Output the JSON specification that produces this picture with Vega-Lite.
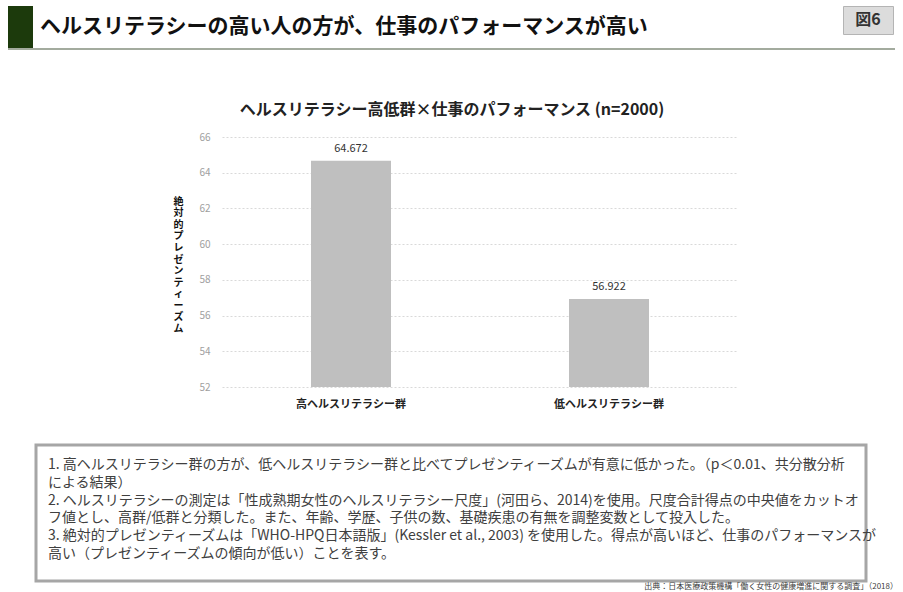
{
  "$schema": "https://vega.github.io/schema/vega-lite/v6.json",
  "padding": {"left": 8, "top": 5, "right": 0, "bottom": 0},
  "background": "white",
  "config": {"view": {"stroke": null}, "font": "Noto Sans CJK JP"},
  "spacing": 0,
  "bounds": "flush",
  "vconcat": [
    {
      "spacing": 7,
      "bounds": "flush",
      "hconcat": [
        {
          "width": 25, "height": 42,
          "view": {"fill": "#1c3a0c", "stroke": null},
          "data": {"values": [{"k": "bar"}]},
          "mark": {"type": "rect", "color": "#1c3a0c"},
          "encoding": {}
        },
        {
          "width": 796, "height": 42,
          "data": {"values": [{"t": "ヘルスリテラシーの高い人の方が、仕事のパフォーマンスが高い"}]},
          "mark": {"type": "text", "align": "left", "baseline": "middle", "fontSize": 21, "fontWeight": "bold", "color": "#111111"},
          "encoding": {
            "text": {"field": "t"},
            "x": {"datum": 0, "type": "quantitative", "scale": {"domain": [0, 1]}, "axis": null}
          }
        },
        {
          "width": 50, "height": 28,
          "view": {"fill": "#dcdcdc", "stroke": "#b4b4b4", "strokeWidth": 1},
          "data": {"values": [{"t": "図6"}]},
          "mark": {"type": "text", "fontSize": 16, "fontWeight": "bold", "color": "#333333"},
          "encoding": {"text": {"field": "t"}}
        }
      ]
    },
    {
      "width": 1, "height": 42,
      "data": {"values": []},
      "mark": "text",
      "encoding": {}
    },
    {
      "width": 887, "height": 2,
      "view": {"fill": "#a3ab9e", "stroke": null},
      "data": {"values": [{"k": 1}]},
      "mark": {"type": "rect", "color": "#a3ab9e"},
      "encoding": {}
    },
    {
      "width": 1, "height": 87,
      "data": {"values": []},
      "mark": "text",
      "encoding": {}
    },
    {
      "spacing": 0,
      "bounds": "flush",
      "hconcat": [
        {
          "width": 214, "height": 1,
          "data": {"values": []},
          "mark": "text",
          "encoding": {}
        },
        {
          "width": 516, "height": 250,
          "title": {"text": "ヘルスリテラシー高低群×仕事のパフォーマンス (n=2000)", "fontSize": 16, "fontWeight": "bold", "color": "#222222", "offset": 14, "anchor": "middle", "dx": -28},
          "data": {"values": [
            {"group": "高ヘルスリテラシー群", "value": 64.672},
            {"group": "低ヘルスリテラシー群", "value": 56.922}
          ]},
          "encoding": {
            "x": {"field": "group", "type": "nominal", "sort": null,
                  "scale": {"paddingInner": 0, "paddingOuter": 0},
                  "axis": {"title": null, "labelAngle": 0, "labelFontSize": 11, "labelFontWeight": "bold", "labelColor": "#222222", "domain": false, "ticks": false, "labelPadding": 11}},
            "y": {"field": "value", "type": "quantitative",
                  "scale": {"domain": [52, 66], "zero": false, "nice": false},
                  "axis": {"values": [52, 54, 56, 58, 60, 62, 64, 66],
                           "title": ["絶", "対", "的", "プ", "レ", "ゼ", "ン", "テ", "ィ", "ー", "ズ", "ム"],
                           "titleAngle": 0, "titleFontSize": 10, "titleFontWeight": "bold", "titleColor": "#111111",
                           "titleLineHeight": 11.6, "titleAlign": "center", "titleBaseline": "middle",
                           "titleX": -44, "titleY": 64,
                           "labelColor": "#a0a0a0", "labelFontSize": 10, "labelPadding": 12,
                           "domain": false, "ticks": false, "grid": true, "gridColor": "#d9d9d9", "gridDash": [2, 2]}}
          },
          "layer": [
            {"mark": {"type": "bar", "color": "#bfbfbf", "width": {"band": 0.31}},
             "encoding": {"y2": {"datum": 52}}},
            {"mark": {"type": "text", "dy": -12, "fontSize": 11, "color": "#333333"},
             "encoding": {"text": {"field": "value", "format": ".3f"}}}
          ]
        }
      ]
    },
    {
      "width": 1, "height": 308,
      "data": {"values": []},
      "mark": "text",
      "encoding": {}
    },
    {
      "spacing": 0,
      "bounds": "flush",
      "hconcat": [
        {
          "width": 28, "height": 1,
          "data": {"values": []},
          "mark": "text",
          "encoding": {}
        },
        {
          "width": 830, "height": 136,
          "view": {"stroke": "#a6a6a6", "strokeWidth": 3, "fill": "white"},
          "data": {"values": [
            {"n": 1, "t": "1. 高ヘルスリテラシー群の方が、低ヘルスリテラシー群と比べてプレゼンティーズムが有意に低かった。（p＜0.01、共分散分析\n\u3000による結果）"},
            {"n": 2, "t": "2. ヘルスリテラシーの測定は「性成熟期女性のヘルスリテラシー尺度」(河田ら、2014)を使用。尺度合計得点の中央値をカットオ\n\u3000フ値とし、高群/低群と分類した。また、年齢、学歴、子供の数、基礎疾患の有無を調整変数として投入した。"},
            {"n": 3, "t": "3. 絶対的プレゼンティーズムは「WHO-HPQ日本語版」(Kessler et al., 2003) を使用した。得点が高いほど、仕事のパフォーマンスが\n\u3000高い（プレゼンティーズムの傾向が低い）ことを表す。"}
          ]},
          "mark": {"type": "text", "align": "left", "baseline": "middle", "fontSize": 14, "lineHeight": 17.5, "lineBreak": "\n", "color": "#404040", "dx": 12},
          "encoding": {
            "text": {"field": "t"},
            "x": {"datum": 0, "type": "quantitative", "scale": {"domain": [0, 1]}, "axis": null},
            "y": {"field": "n", "type": "quantitative", "scale": {"domain": [0.424, 4.255], "reverse": true}, "axis": null}
          }
        }
      ]
    },
    {
      "width": 1, "height": 136,
      "data": {"values": []},
      "mark": "text",
      "encoding": {}
    },
    {
      "width": 890, "height": 12,
      "data": {"values": [{"t": "出典：日本医療政策機構「働く女性の健康増進に関する調査」（2018）"}]},
      "mark": {"type": "text", "align": "right", "baseline": "middle", "fontSize": 8, "color": "#404040"},
      "encoding": {
        "text": {"field": "t"},
        "x": {"datum": 1, "type": "quantitative", "scale": {"domain": [0, 1]}, "axis": null}
      }
    }
  ]
}
